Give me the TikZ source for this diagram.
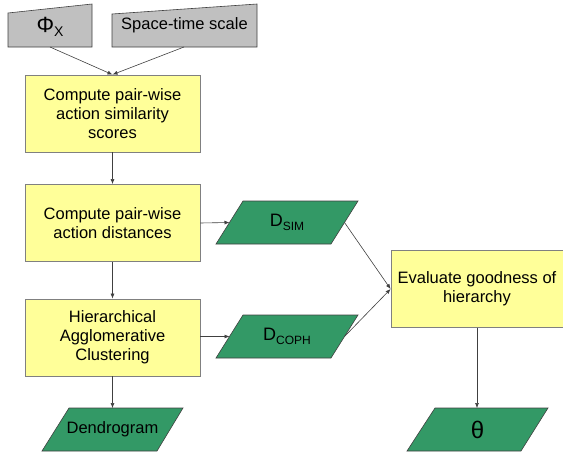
\documentclass[tikz,border=0pt]{standalone}
\usepackage{fontspec}
\setmainfont{Liberation Sans}
\usetikzlibrary{arrows.meta}
\definecolor{boxyellow}{HTML}{FFFF99}
\definecolor{boxgreen}{HTML}{339966}
\definecolor{boxgray}{HTML}{C0C0C0}
\definecolor{edgegray}{HTML}{808080}
\definecolor{linegray}{HTML}{404040}
\tikzset{
  procbox/.style={draw=edgegray, fill=boxyellow, line width=0.8pt, minimum width=175pt, minimum height=77pt, align=center, font=\fontsize{16.5}{19}\selectfont, inner sep=0pt},
  datashape/.style={draw=linegray, fill=boxgreen, line width=0.6pt},
  inshape/.style={draw=linegray, fill=boxgray, line width=0.6pt},
  label16/.style={font=\fontsize{16.5}{19}\selectfont, inner sep=0pt},
  conn/.style={draw=linegray, line width=0.6pt, -{Latex[length=5pt,width=4pt]}},
}
\begin{document}
\begin{tikzpicture}[x=1pt,y=-1pt]
\useasboundingbox (0,0) rectangle (563,458);
% manual inputs
\draw[inshape] (8,13) -- (92,4) -- (92,47) -- (8,47) -- cycle;
\node[label16] (phi) at (50,27) {{\fontsize{22}{22}\selectfont Φ}\raisebox{-4pt}{\fontsize{14}{14}\selectfont X}};
\coordinate (phib) at (50,47);
\draw[inshape] (112,14) -- (257,4) -- (257,47) -- (112,47) -- cycle;
\node[label16] (scale) at (184.5,25) {Space-time scale};
\coordinate (scaleb) at (184,47);
% process boxes
\node[procbox] (sim) at (112.5,113.5) {Compute pair-wise\\action similarity\\scores};
\node[procbox] (dist) at (112.5,223) {Compute pair-wise\\action distances};
\node[procbox] (hac) at (112.5,337.5) {Hierarchical\\Agglomerative\\Clustering};
\node[procbox, minimum width=172pt] (eval) at (477,289) {Evaluate goodness of\\hierarchy};
% data parallelograms
\draw[datashape] (243,201) -- (358,201) -- (331,244) -- (216,244) -- cycle;
\node[label16] (dsim) at (287,222.5) {{\fontsize{18}{18}\selectfont D}\raisebox{-4pt}{\fontsize{12}{12}\selectfont SIM}};
\coordinate (dsimw) at (229.5,222.5);
\coordinate (dsime) at (344.5,222.5);
\draw[datashape] (243,315) -- (358,315) -- (331,358) -- (216,358) -- cycle;
\node[label16] (dcoph) at (287,336.5) {{\fontsize{18}{18}\selectfont D}\raisebox{-4pt}{\fontsize{12}{12}\selectfont COPH}};
\coordinate (dcophw) at (229.5,336.5);
\coordinate (dcophe) at (344.5,336.5);
\draw[datashape] (69,408) -- (183,408) -- (157,451) -- (42,451) -- cycle;
\node[label16] (dend) at (112.5,429.5) {Dendrogram};
\coordinate (dendn) at (112.5,408);
\draw[datashape] (435,408) -- (548,408) -- (521,451) -- (407,451) -- cycle;
\node[label16] (theta) at (477.5,430) {\fontsize{24}{24}\selectfont θ};
\coordinate (thetan) at (477,408);
% connectors
\draw[conn] (phib) -- (sim.north);
\draw[conn] (scaleb) -- (sim.north);
\draw[conn] (sim) -- (dist);
\draw[conn] (dist) -- (hac);
\draw[conn] (hac.south) -- (dendn);
\draw[conn] (dist.east) -- (dsimw);
\draw[conn] (hac.east |- dcophw) -- (dcophw);
\draw[conn] (dsime) -- (eval.west);
\draw[conn] (dcophe) -- (eval.west);
\draw[conn] (eval.south) -- (thetan);
\end{tikzpicture}
\end{document}
